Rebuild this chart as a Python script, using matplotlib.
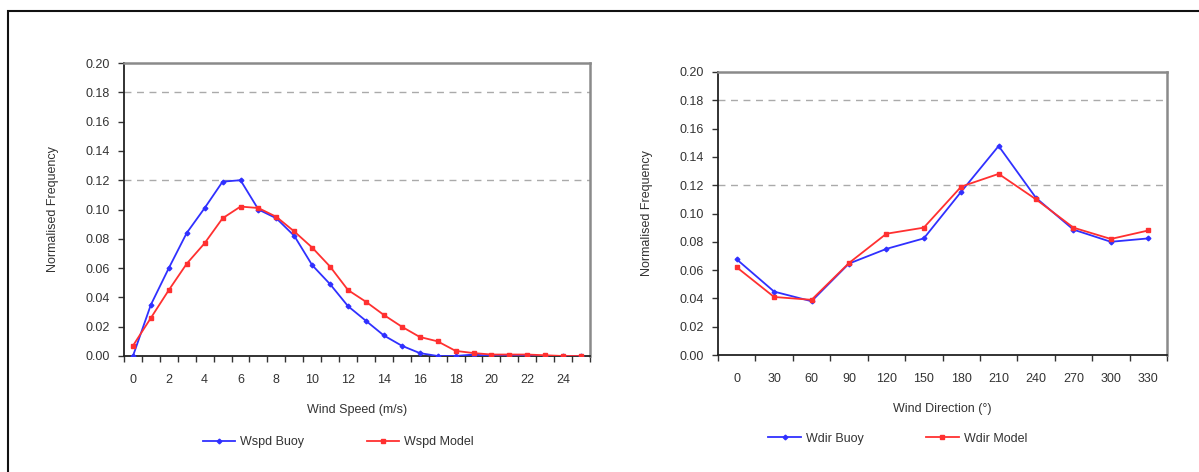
import matplotlib
matplotlib.use("Agg")
import matplotlib.pyplot as plt
from matplotlib.ticker import FixedLocator, FormatStrFormatter
from matplotlib.patches import Rectangle

plt.rcParams['font.family'] = ['Liberation Sans', 'DejaVu Sans']

# wind speed histogram (m/s bins 0..25)
wspd_bins = list(range(26))
wspd_buoy = [0.000, 0.035, 0.060, 0.084, 0.101, 0.119, 0.120, 0.100, 0.094, 0.082,
             0.062, 0.049, 0.034, 0.024, 0.014, 0.007, 0.002, 0.000, 0.000, 0.001,
             0.000, 0.000, 0.000, 0.000, 0.000, 0.000]
wspd_model = [0.007, 0.026, 0.045, 0.063, 0.077, 0.094, 0.102, 0.101, 0.095, 0.085,
              0.074, 0.061, 0.045, 0.037, 0.028, 0.020, 0.013, 0.010, 0.0035, 0.002,
              0.001, 0.001, 0.001, 0.0005, 0.000, 0.000]

# wind direction histogram (30 deg sectors)
wdir_bins = [0, 30, 60, 90, 120, 150, 180, 210, 240, 270, 300, 330]
wdir_buoy = [0.0676, 0.0448, 0.038, 0.0646, 0.075, 0.0824, 0.1154, 0.1477,
             0.111, 0.0886, 0.080, 0.0824]
wdir_model = [0.062, 0.041, 0.039, 0.065, 0.0857, 0.090, 0.119, 0.128,
              0.110, 0.090, 0.082, 0.088]

blue = '#3030ff'
red = '#ff3030'
txt = '#333333'

fig = plt.figure(figsize=(11.99, 4.72), dpi=100)

# outer frame (runs off the right and bottom edges)
fig.patches.append(Rectangle((8 / 1199, -0.05), 1.1, 1 - 11 / 472 + 0.05,
                             transform=fig.transFigure, fill=False,
                             edgecolor='#111111', linewidth=1.5))


def style_axes(ax, n, labels, label_every, xlabel, legend_x):
    pos = list(range(n))
    ax.set_xlim(-0.5, n - 0.5)
    ax.set_ylim(0, 0.20)
    # ticks sit between categories, labels on the categories
    ax.xaxis.set_major_locator(FixedLocator([p - 0.5 for p in range(n + 1)]))
    ax.xaxis.set_major_formatter(plt.NullFormatter())
    ax.xaxis.set_minor_locator(FixedLocator(pos[::label_every]))
    ax.set_xticklabels([str(l) for l in labels[::label_every]], minor=True)
    ax.tick_params(axis='x', which='minor', length=0, pad=13, labelsize=9, labelcolor=txt)
    ax.tick_params(axis='x', which='major', length=4, width=1, color='#333333')
    ax.set_yticks([i * 0.02 for i in range(11)])
    ax.yaxis.set_major_formatter(FormatStrFormatter('%.2f'))
    ax.tick_params(axis='y', length=4, width=1, color='#333333', labelsize=9,
                   labelcolor=txt, pad=6)
    for y in (0.12, 0.18):
        ax.axhline(y, color='#aaaaaa', lw=1, ls=(0, (5, 4)), zorder=1)
    for s in ('left', 'bottom'):
        ax.spines[s].set_color('#222222')
        ax.spines[s].set_linewidth(1.3)
    for s in ('top', 'right'):
        ax.spines[s].set_color('#8a8a8a')
        ax.spines[s].set_linewidth(1.8)
    ax.set_xlabel(xlabel, fontsize=9, color=txt, labelpad=13)
    ax.set_ylabel('Normalised Frequency', fontsize=9, color=txt, labelpad=19)
    ax.legend(ncol=2, loc='upper center', bbox_to_anchor=(legend_x, -0.235),
              frameon=False, fontsize=9, labelcolor=txt, handlelength=2.6,
              columnspacing=5, handletextpad=0.4)


ax1 = fig.add_axes([124 / 1199, 1 - 356 / 472, 466 / 1199, 293 / 472])
ax1.plot(range(len(wspd_bins)), wspd_buoy, color=blue, lw=1.3, marker='D', ms=2.4,
         label='Wspd Buoy', zorder=3)
ax1.plot(range(len(wspd_bins)), wspd_model, color=red, lw=1.3, marker='s', ms=2.4,
         label='Wspd Model', zorder=3)
style_axes(ax1, len(wspd_bins), wspd_bins, 2, 'Wind Speed (m/s)', 0.46)

ax2 = fig.add_axes([718 / 1199, 1 - 355 / 472, 449 / 1199, 283 / 472])
ax2.plot(range(len(wdir_bins)), wdir_buoy, color=blue, lw=1.3, marker='D', ms=2.4,
         label='Wdir Buoy', zorder=3)
ax2.plot(range(len(wdir_bins)), wdir_model, color=red, lw=1.3, marker='s', ms=2.4,
         label='Wdir Model', zorder=3)
style_axes(ax2, len(wdir_bins), wdir_bins, 1, 'Wind Direction (°)', 0.4)

fig.savefig('out.png', dpi=100)
